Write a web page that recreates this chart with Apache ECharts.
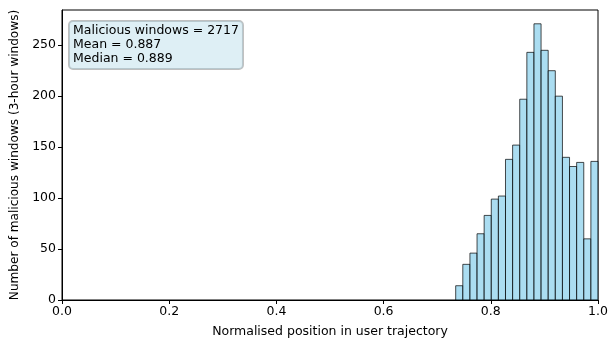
<!DOCTYPE html>
<html><head><meta charset="utf-8">
<script src="https://cdn.jsdelivr.net/npm/echarts@6/dist/echarts.min.js"></script>
<style>html,body{margin:0;padding:0;background:#fff}#c{width:615px;height:341px}</style>
</head><body><div id="c"></div>
<script>
// Histogram data
const binStart = 0.7345;
const binWidth = 0.013275;
const counts = [14, 35, 46, 65, 83, 99, 102, 138, 152, 197, 243, 271, 245, 225, 200, 140, 131, 135, 60, 136];
const xTicks = [0.0, 0.2, 0.4, 0.6, 0.8, 1.0];
const yTicks = [0, 50, 100, 150, 200, 250];
const statsLines = ['Malicious windows = 2717', 'Mean = 0.887', 'Median = 0.889'];

const data = counts.map((c, i) => [binStart + i * binWidth, binStart + (i + 1) * binWidth, c]);
const FONT = 'DejaVu Sans';
const FS = 12.5;

const chart = echarts.init(document.getElementById('c'), null, {renderer: 'canvas'});
chart.setOption({
  animation: false,
  grid: {left: 62, right: 17, top: 10, bottom: 41, show: true, borderColor: '#000', borderWidth: 1,
    backgroundColor: 'transparent', containLabel: false, outerBoundsMode: 'none'},
  xAxis: {
    type: 'value', min: 0, max: 1, interval: 0.2,
    name: 'Normalised position in user trajectory', nameLocation: 'middle', nameGap: 25,
    nameTextStyle: {fontFamily: FONT, fontSize: FS, color: '#000'},
    axisLine: {show: true, lineStyle: {color: '#000', width: 1}},
    axisTick: {show: true, length: 4, lineStyle: {color: '#000'}},
    axisLabel: {fontFamily: FONT, fontSize: FS, color: '#000', margin: 5, formatter: v => v.toFixed(1), showMinLabel: true, showMaxLabel: true},
    splitLine: {show: false}
  },
  yAxis: {
    type: 'value', min: 0, max: 284.55, interval: 50,
    name: 'Number of malicious windows (3-hour windows)', nameLocation: 'middle', nameGap: 35,
    nameTextStyle: {fontFamily: FONT, fontSize: 12.1, color: '#000'},
    axisLine: {show: true, lineStyle: {color: '#000', width: 1}},
    axisTick: {show: true, length: 4, lineStyle: {color: '#000'}},
    axisLabel: {fontFamily: FONT, fontSize: FS, color: '#000', margin: 6, showMaxLabel: false,
      formatter: v => yTicks.includes(v) ? String(v) : ''},
    splitLine: {show: false}
  },
  series: [{
    type: 'custom',
    data: data,
    encode: {x: [0, 1], y: 2},
    renderItem: function (params, api) {
      const p0 = api.coord([api.value(0), 0]);
      const p1 = api.coord([api.value(1), api.value(2)]);
      return {
        type: 'rect',
        shape: {x: p0[0], y: p1[1], width: p1[0] - p0[0], height: p0[1] - p1[1]},
        style: {fill: 'rgba(135,206,235,0.7)', stroke: 'rgba(0,0,0,0.7)', lineWidth: 1}
      };
    }
  }],
  graphic: [{
    type: 'text', left: 68, top: 20,
    style: {
      text: statsLines.join('\n'), fontFamily: FONT, fontSize: FS, lineHeight: 14, fill: '#000',
      backgroundColor: 'rgba(173,216,230,0.4)', borderColor: 'rgba(128,128,128,0.5)', borderWidth: 1,
      borderRadius: 4, padding: [3, 4, 3, 4]
    }
  }]
});
</script></body></html>
